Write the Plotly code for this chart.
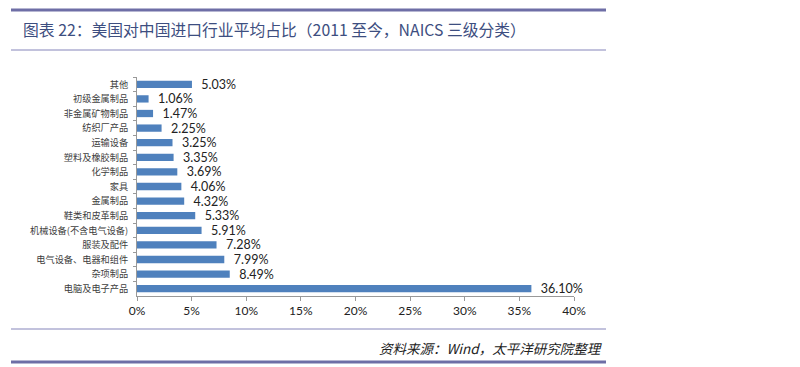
import plotly.graph_objects as go

categories = ["其他", "初级金属制品", "非金属矿物制品", "纺织厂产品", "运输设备", "塑料及橡胶制品",
              "化学制品", "家具", "金属制品", "鞋类和皮革制品", "机械设备(不含电气设备)",
              "服装及配件", "电气设备、电器和组件", "杂项制品", "电脑及电子产品"]
values = [5.03, 1.06, 1.47, 2.25, 3.25, 3.35, 3.69, 4.06, 4.32, 5.33, 5.91, 7.28, 7.99, 8.49, 36.10]
x_ticks = [0, 5, 10, 15, 20, 25, 30, 35, 40]
x_tick_labels = ["0%", "5%", "10%", "15%", "20%", "25%", "30%", "35%", "40%"]

OFF = 8  # default page body margin
W, H = 800, 367
# plot area in page pixels: x 137-574, y 77-296
L, R, T, B = 137 - OFF, W - (574 - OFF), 77 - OFF, H - (296 - OFF)
pw, ph = W - L - R, H - T - B

def px(x):
    return (x - OFF - L) / pw

def py(y):
    return (H - B - (y - OFF)) / ph

fig = go.Figure(go.Bar(
    x=values, y=categories, orientation="h",
    marker=dict(color="#4F81BD", line=dict(width=0)),
    text=[f"  {v:.2f}%" for v in values], textposition="outside", constraintext="none",
    textfont=dict(family="Lato, Carlito, sans-serif", size=12.5, color="#222222"),
    cliponaxis=False, width=0.5,
))

fig.update_layout(
    width=W, height=H, margin=dict(l=L, r=R, t=T, b=B),
    paper_bgcolor="white", plot_bgcolor="white", showlegend=False,
    font=dict(family="Noto Sans CJK SC", color="#333333"),
    xaxis=dict(range=[0, 40], tickvals=x_ticks, ticktext=x_tick_labels, automargin=False,
               showgrid=False, zeroline=False, showline=True, linecolor="#999999",
               ticks="outside", ticklen=4, tickcolor="#999999",
               tickfont=dict(family="Lato, sans-serif", size=12, color="#222222")),
    yaxis=dict(autorange="reversed", showgrid=False, zeroline=False, showline=True,
               linecolor="#999999", ticks="outside", ticklen=3, tickcolor="#999999",
               tickson="boundaries", ticklabelstandoff=6, automargin=False,
               tickfont=dict(family="Noto Sans CJK SC", size=9.2, color="#404040")),
)

line_col = "#6E6EA6"
thin_col = "#8585BA"
shapes = [
    dict(type="line", xref="paper", yref="paper", x0=px(11), x1=px(606), y0=py(10), y1=py(10),
         line=dict(color=line_col, width=3)),
    dict(type="line", xref="paper", yref="paper", x0=px(11), x1=px(606), y0=py(50), y1=py(50),
         line=dict(color=thin_col, width=1)),
    dict(type="line", xref="paper", yref="paper", x0=px(11), x1=px(606), y0=py(329), y1=py(329),
         line=dict(color=thin_col, width=1)),
    dict(type="line", xref="paper", yref="paper", x0=px(11), x1=px(606), y0=py(362), y1=py(362),
         line=dict(color=line_col, width=3)),
]
fig.update_layout(shapes=shapes)

fig.add_annotation(text="图表 22：美国对中国进口行业平均占比（2011 至今，NAICS 三级分类）",
                   xref="paper", yref="paper", x=px(21), y=py(30), xanchor="left", yanchor="middle",
                   showarrow=False, font=dict(family="Noto Sans CJK SC", size=15.8, color="#3D4E80"))
fig.add_annotation(text="<i>资料来源：Wind，太平洋研究院整理</i>",
                   xref="paper", yref="paper", x=px(605), y=py(348), xanchor="right", yanchor="middle",
                   showarrow=False, font=dict(family="Noto Sans CJK SC", size=13.5, color="#222222"))

fig.write_html("out.html")
